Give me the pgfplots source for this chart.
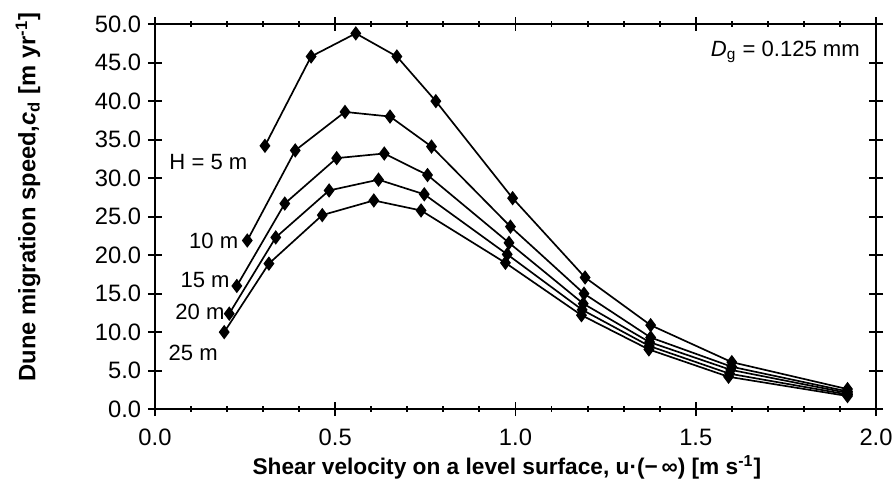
\documentclass[border=0pt]{standalone}
\usepackage{pgfplots}
\pgfplotsset{compat=1.18}
\usepackage{fontspec}
\setmainfont{Liberation Sans}

\begin{document}
\begin{tikzpicture}
% fixed frame with the reference's proportions (1pt ~ 2.1px)
\useasboundingbox (-73.8pt,-43.8pt) rectangle (351.4pt,194.8pt);

\tikzset{etiqueta/.style={font=\fontsize{10.5}{12}\selectfont, inner sep=0pt}}
\pgfplotsset{
    curva/.style={black, line width=0.8pt, mark=diamond*,
        mark size=2.8pt, mark options={solid, fill=black}},
}

\begin{axis}[
    at={(0,0)}, anchor=south west,
    width=343.3pt, height=183.3pt, scale only axis,
    xmin=0, xmax=2, ymin=0, ymax=50,
    xtick={0,0.5,...,2}, minor x tick num=4,
    ytick={0,5,...,50},
    tick align=center,
    major tick length=6.7pt, minor tick length=2.6pt,
    axis line style={line width=0.95pt},
    every tick/.style={black, line width=0.9pt},
    /pgf/number format/.cd, fixed, fixed zerofill, precision=1,
        assume math mode=true,
    /pgfplots/.cd,
    tick label style={font=\fontsize{11.3}{13}\selectfont},
    xticklabel style={yshift=-2.5pt},
    yticklabel style={xshift=0.3pt},
    xlabel={Shear velocity on a level surface, u·(−\,∞) [m s\textsuperscript{-1}]},
    ylabel={Dune migration speed,\textit{c}\textsubscript{d} [m yr\textsuperscript{-1}]},
    label style={font=\bfseries\fontsize{10.8}{13}\selectfont},
    xlabel style={at={(axis description cs:0.488,-0.151)}, anchor=center},
    ylabel style={at={(axis description cs:-0.176,0.551)}, anchor=center,
        font=\bfseries\fontsize{11.3}{13}\selectfont},
    clip=false,
]

% H = 5 m
\addplot[curva] coordinates {
    (0.305,34.2) (0.433,45.8) (0.557,48.8) (0.671,45.8) (0.779,40.0)
    (0.992,27.4) (1.193,17.1) (1.375,10.9) (1.600,6.1) (1.921,2.6)
};
% H = 10 m
\addplot[curva] coordinates {
    (0.256,21.9) (0.389,33.6) (0.527,38.6) (0.652,38.0) (0.767,34.1)
    (0.986,23.7) (1.190,15.0) (1.375,9.3) (1.600,5.5) (1.921,2.3)
};
% H = 15 m
\addplot[curva] coordinates {
    (0.227,16.0) (0.360,26.7) (0.504,32.6) (0.636,33.2) (0.756,30.4)
    (0.982,21.6) (1.188,13.7) (1.372,8.7) (1.597,5.1) (1.921,2.1)
};
% H = 20 m
\addplot[curva] coordinates {
    (0.206,12.4) (0.335,22.3) (0.483,28.4) (0.620,29.8) (0.747,27.9)
    (0.977,20.1) (1.185,12.9) (1.371,8.2) (1.594,4.6) (1.921,1.9)
};
% H = 25 m
\addplot[curva] coordinates {
    (0.192,10.0) (0.316,18.9) (0.464,25.2) (0.607,27.1) (0.738,25.8)
    (0.972,19.0) (1.183,12.2) (1.370,7.75) (1.591,4.2) (1.921,1.7)
};

% === ETIQUETAS ===
\node[etiqueta, anchor=west] at (axis cs:0.039,32.1) {H = 5 m};
\node[etiqueta, anchor=east] at (axis cs:0.232,21.9) {10 m};
\node[etiqueta, anchor=east] at (axis cs:0.208,16.75) {15 m};
\node[etiqueta, anchor=east] at (axis cs:0.194,12.6) {20 m};
\node[etiqueta, anchor=east] at (axis cs:0.175,7.3) {25 m};
\node[etiqueta, anchor=east] at (axis cs:1.956,46.4)
    {\textit{D}\textsubscript{g} = 0.125 mm};
\end{axis}
\end{tikzpicture}
\end{document}
